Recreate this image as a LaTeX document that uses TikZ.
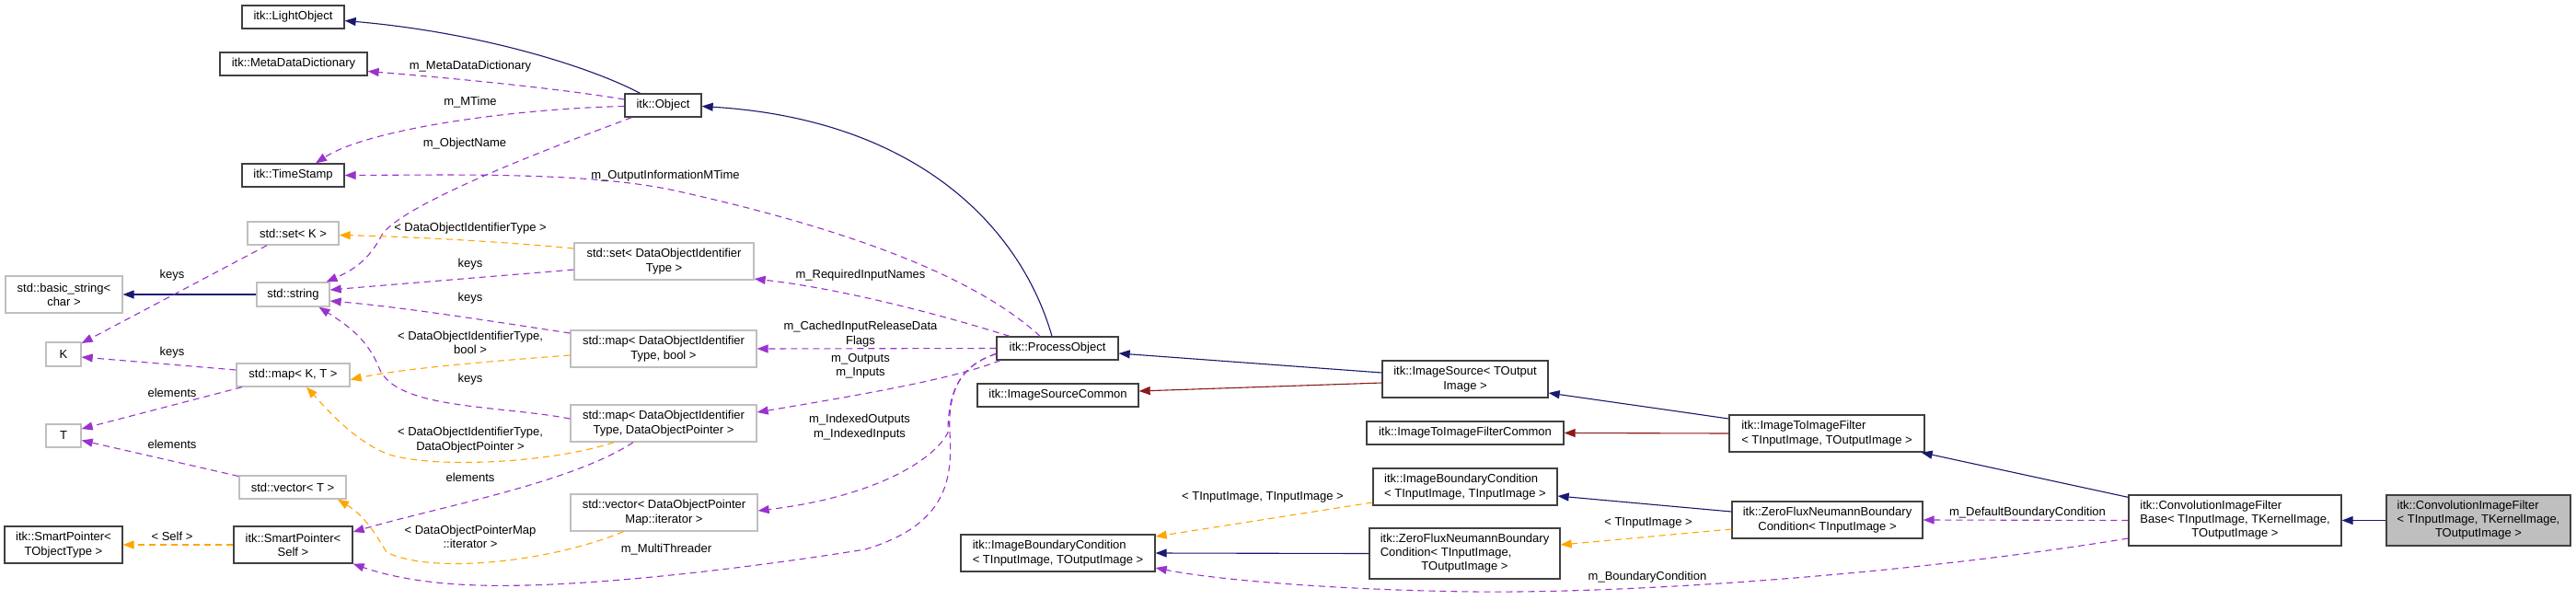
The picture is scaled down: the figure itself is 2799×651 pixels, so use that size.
\documentclass[tikz,border=0pt]{standalone}
\usepackage{fontspec}
\setmainfont{Liberation Sans}
\usetikzlibrary{arrows.meta}
\definecolor{navy}{HTML}{191970}
\definecolor{purp}{HTML}{9A32CD}
\definecolor{orng}{HTML}{FFA500}
\definecolor{dred}{HTML}{8B1A1A}
\definecolor{graybd}{HTML}{BFBFBF}
\definecolor{mainfill}{HTML}{BFBFBF}
\begin{document}
\begin{tikzpicture}[x=1pt,y=-1pt,font=\fontsize{13}{15.3}\selectfont,
  box/.style={draw=black!75,line width=1.3pt,fill=white,inner sep=0pt,align=center},
  sbox/.style={box,draw=graybd},
  lbl/.style={inner sep=0pt,align=center},
  tip/.style={-{Triangle[length=12pt,width=9pt]}},
  inh/.style={draw=navy,line width=1.1pt,tip},
  prot/.style={draw=dred,line width=1.1pt,tip},
  use/.style={draw=purp,line width=1.1pt,dash pattern=on 7pt off 5pt,tip},
  tmpl/.style={draw=orng,line width=1.1pt,dash pattern=on 7pt off 5pt,tip}]
\useasboundingbox (0,0) rectangle (2799,651);
\fill[white] (0,0) rectangle (2799,651);
% nodes
\node[box,minimum width=111pt,minimum height=25pt] (LightObject) at (318.5,18.5) {itk::LightObject};
\node[box,minimum width=160pt,minimum height=25pt] (MDD) at (319,69.5) {itk::MetaDataDictionary};
\node[box,minimum width=111pt,minimum height=25pt] (TimeStamp) at (318.5,190.5) {itk::TimeStamp};
\node[sbox,minimum width=99pt,minimum height=25pt] (setK) at (318.5,253.5) {std::set< K >};
\node[sbox,minimum width=127pt,minimum height=40pt] (basicString) at (69.5,320) {std::basic\_string<\\char >};
\node[sbox,minimum width=79pt,minimum height=26pt] (stdString) at (318.5,320) {std::string};
\node[sbox,minimum width=38pt,minimum height=26pt] (K) at (69,385) {K};
\node[sbox,minimum width=123pt,minimum height=25pt] (mapKT) at (318.5,407.5) {std::map< K, T >};
\node[sbox,minimum width=38pt,minimum height=25pt] (T) at (69,473.5) {T};
\node[sbox,minimum width=116pt,minimum height=25pt] (vectorT) at (318,529.5) {std::vector< T >};
\node[box,minimum width=128pt,minimum height=40pt] (spTOT) at (69,592) {itk::SmartPointer<\\TObjectType >};
\node[box,minimum width=129pt,minimum height=40pt] (spSelf) at (318.5,592) {itk::SmartPointer<\\Self >};
\node[box,minimum width=83pt,minimum height=25pt] (Object) at (720.5,114.5) {itk::Object};
\node[sbox,minimum width=195pt,minimum height=40pt] (setDOIT) at (721.5,284) {std::set< DataObjectIdentifier\\Type >};
\node[sbox,minimum width=202pt,minimum height=40pt] (mapBool) at (721,379) {std::map< DataObjectIdentifier\\Type, bool >};
\node[sbox,minimum width=202pt,minimum height=40pt] (mapDOP) at (721,460) {std::map< DataObjectIdentifier\\Type, DataObjectPointer >};
\node[sbox,minimum width=203pt,minimum height=40pt] (vecIter) at (721.5,557) {std::vector< DataObjectPointer\\Map::iterator >};
\node[box,minimum width=132pt,minimum height=25pt] (ProcessObject) at (1149,378.5) {itk::ProcessObject};
\node[box,minimum width=175pt,minimum height=25pt] (ISC) at (1149.5,429.5) {itk::ImageSourceCommon};
\node[box,minimum width=211pt,minimum height=40pt,align=left] (IBCTO) at (1149.5,601) {itk::ImageBoundaryCondition\\< TInputImage, TOutputImage >};
\node[box,minimum width=180pt,minimum height=40pt] (ImageSource) at (1592,412) {itk::ImageSource< TOutput\\Image >};
\node[box,minimum width=214pt,minimum height=25pt] (ITIFC) at (1592,470.5) {itk::ImageToImageFilterCommon};
\node[box,minimum width=200pt,minimum height=40pt,align=left] (IBCTI) at (1592,529) {itk::ImageBoundaryCondition\\< TInputImage, TInputImage >};
\node[box,minimum width=207pt,minimum height=55pt] (ZFNTO) at (1591.5,601.5) {\begin{tabular}{@{}l@{}}itk::ZeroFluxNeumannBoundary\\Condition< TInputImage,\\\multicolumn{1}{@{}c@{}}{TOutputImage >}\end{tabular}};
\node[box,minimum width=212pt,minimum height=40pt,align=left] (ITIF) at (1985,471) {itk::ImageToImageFilter\\< TInputImage, TOutputImage >};
\node[box,minimum width=207pt,minimum height=40pt] (ZFNTI) at (1985.5,565) {itk::ZeroFluxNeumannBoundary\\Condition< TInputImage >};
\node[box,minimum width=231pt,minimum height=55pt] (CIFB) at (2428.5,565.5) {\begin{tabular}{@{}l@{}}itk::ConvolutionImageFilter\\Base< TInputImage, TKernelImage,\\\multicolumn{1}{@{}c@{}}{TOutputImage >}\end{tabular}};
\node[box,fill=mainfill,minimum width=200pt,minimum height=55pt] (CIF) at (2693,565.5) {\begin{tabular}{@{}l@{}}itk::ConvolutionImageFilter\\< TInputImage, TKernelImage,\\\multicolumn{1}{@{}c@{}}{TOutputImage >}\end{tabular}};
% inheritance
\draw[inh] ([xshift=-25pt]Object.north) .. controls (640,72) and (520,35) .. ([yshift=-4pt]LightObject.east);
\draw[inh] ([xshift=-6pt]ProcessObject.north) .. controls (1110,250) and (1000,130) .. ([yshift=-1pt]Object.east);
\draw[inh] (stdString.west) -- (basicString.east);
\draw[inh] ([yshift=7pt]ImageSource.west) -- ([yshift=-5.5pt]ProcessObject.east);
\draw[prot] ([yshift=-4pt]ImageSource.west) -- ([yshift=4.5pt]ISC.east);
\draw[inh] ([yshift=16pt]ITIF.west) -- ([yshift=-15pt]ImageSource.east);
\draw[prot] (ITIF.west) -- (ITIFC.east);
\draw[inh] ([yshift=-3pt]CIFB.north west) -- ([xshift=-4pt]ITIF.south east);
\draw[inh] ([yshift=9pt]ZFNTI.west) -- ([yshift=-10pt]IBCTI.east);
\draw[inh] (ZFNTO.west) -- (IBCTO.east);
\draw[inh] (CIF.west) -- (CIFB.east);
% usage
\draw[use] ([yshift=6.5pt]Object.west) .. controls (600,95) and (480,84) .. ([yshift=-8pt]MDD.east);
\node[lbl] (lMDD) at (511,72) {m\_MetaDataDictionary};
\draw[use] ([yshift=-1pt]Object.west) .. controls (560,118) and (400,140) .. ([xshift=24.5pt]TimeStamp.north);
\node[lbl] (lMTime) at (511,111) {m\_MTime};
\draw[use] ([xshift=-19pt]ProcessObject.north) .. controls (1070,310) and (950,255) .. (733,207) .. controls (640,187) and (500,190) .. (TimeStamp.east);
\node[lbl] (lOIMT) at (723,191) {m\_OutputInformationMTime};
\draw[use] ([xshift=-34pt]Object.south) .. controls (600,160) and (440,220) .. (415,255) .. controls (400,285) and (380,295) .. ([xshift=36pt]stdString.north);
\node[lbl] (lObjName) at (505,156) {m\_ObjectName};
\draw[tmpl] ([yshift=14pt]setDOIT.west) .. controls (540,262) and (440,257) .. ([yshift=-2pt]setK.east);
\node[lbl] (lSetK) at (511,248) {< DataObjectIdentifierType >};
\draw[use] ([yshift=-9pt]setDOIT.west) .. controls (540,300) and (440,308) .. ([yshift=5pt]stdString.east);
\node[lbl] (lKeys1) at (511,287) {keys};
\draw[use] ([yshift=17pt]mapBool.west) .. controls (540,350) and (440,334) .. ([yshift=-7pt]stdString.east);
\node[lbl] (lKeys2) at (511,324) {keys};
\draw[use] ([yshift=5pt]mapDOP.west) .. controls (540,440) and (430,445) .. (412,400) .. controls (400,370) and (380,355) .. ([xshift=28pt]stdString.south);
\node[lbl] (lKeys3) at (511,412) {keys};
\draw[tmpl] ([yshift=-7pt]mapBool.west) .. controls (540,392) and (440,400) .. ([yshift=-5pt]mapKT.east);
\node[lbl] (lMapBool) at (511,372) {< DataObjectIdentifierType,\\bool >};
\draw[tmpl] ([xshift=-54pt]mapDOP.south) .. controls (600,503) and (470,510) .. (420,493) .. controls (385,478) and (360,450) .. ([xshift=14.5pt]mapKT.south);
\node[lbl] (lMapDOP) at (511,478) {< DataObjectIdentifierType,\\DataObjectPointer >};
\draw[use] ([xshift=-33pt]mapDOP.south) .. controls (620,525) and (480,550) .. ([yshift=14pt]spSelf.east);
\node[lbl] (lElem1) at (511,519) {elements};
\draw[use] ([yshift=5.5pt]mapKT.west) -- ([yshift=-3pt]K.east);
\node[lbl] (lKeys4) at (187,383) {keys};
\draw[use] ([xshift=-55.5pt]mapKT.south) -- ([yshift=7.5pt]T.east);
\node[lbl] (lElem2) at (187,427) {elements};
\draw[use] ([xshift=-28.5pt]setK.south) -- ([yshift=12pt]K.east);
\node[lbl] (lKeys5) at (187,299) {keys};
\draw[use] ([yshift=12pt]vectorT.west) -- ([yshift=-5pt]T.east);
\node[lbl] (lElem3) at (187,483) {elements};
\draw[tmpl] ([xshift=-44pt]vecIter.south) .. controls (600,610) and (470,625) .. (420,600) .. controls (405,575) and (395,560) .. ([xshift=49pt]vectorT.south);
\node[lbl] (lVecIter) at (511,583) {< DataObjectPointerMap\\::iterator >};
\draw[tmpl] (spSelf.west) -- (spTOT.east);
\node[lbl] (lSelf) at (187,583) {< Self >};
\draw[use] ([yshift=-6pt]ProcessObject.west) .. controls (1040,398) and (1030,430) .. (1032,470) .. controls (1035,520) and (1030,570) .. (940,597) .. controls (860,610) and (650,640) .. (520,636) .. controls (450,634) and (410,622) .. (spSelf.south east);
\node[lbl] (lMT) at (724,597) {m\_MultiThreader};
\draw[use] ([yshift=-6pt]ProcessObject.west) .. controls (1040,398) and (1030,430) .. (1030,470) .. controls (1015,500) and (950,540) .. ([yshift=2pt]vecIter.east);
\node[lbl] (lIdx) at (934,464) {m\_IndexedOutputs\\m\_IndexedInputs};
\draw[use] ([xshift=-52pt]ProcessObject.north) .. controls (1000,335) and (900,312) .. ([yshift=-19pt]setDOIT.east);
\node[lbl] (lReq) at (935,299) {m\_RequiredInputNames};
\draw[use] (ProcessObject.west) -- (mapBool.east);
\node[lbl] (lCached) at (935,363) {m\_CachedInputReleaseData\\Flags};
\draw[use] ([xshift=-62pt]ProcessObject.south) .. controls (1040,410) and (960,425) .. ([yshift=12pt]mapDOP.east);
\node[lbl] (lOut) at (935,398) {m\_Outputs\\m\_Inputs};
\draw[use] (CIFB.west) -- (ZFNTI.east);
\node[lbl] (lDef) at (2203,557) {m\_DefaultBoundaryCondition};
\draw[use] ([yshift=-19.5pt]CIFB.west) .. controls (2100,620) and (1800,645) .. (1600,643) .. controls (1450,641) and (1320,630) .. ([yshift=-16pt]IBCTO.east);
\node[lbl] (lBC) at (1790,627) {m\_BoundaryCondition};
\draw[tmpl] ([yshift=-10pt]ZFNTI.west) -- ([yshift=9.5pt]ZFNTO.east);
\node[lbl] (lTI) at (1791,568) {< TInputImage >};
\draw[tmpl] ([yshift=-17pt]IBCTI.west) -- ([yshift=18pt]IBCTO.east);
\node[lbl] (lTITI) at (1372,540) {< TInputImage, TInputImage >};
\end{tikzpicture}
\end{document}
